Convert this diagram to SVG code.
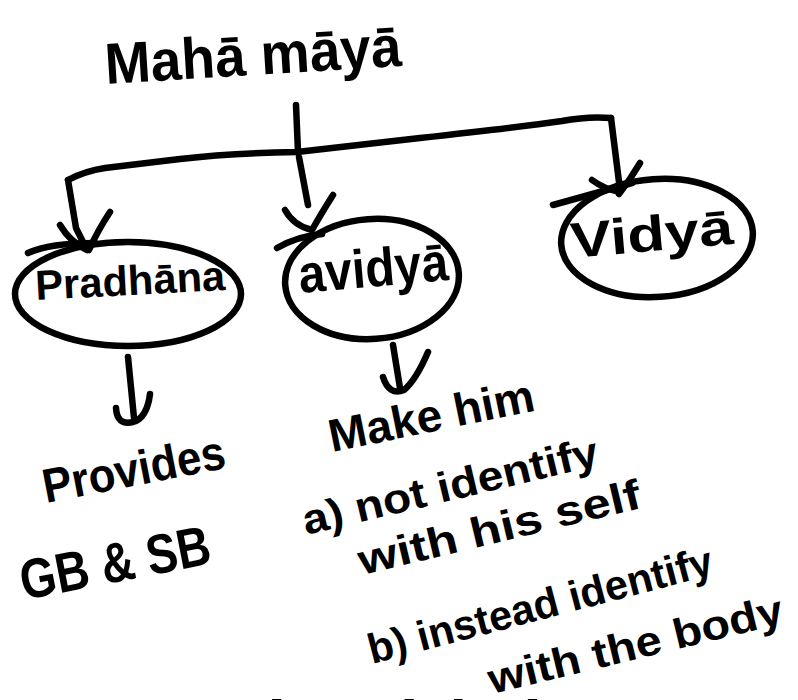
<svg xmlns="http://www.w3.org/2000/svg" width="798" height="700" viewBox="0 0 798 700">
<style>
.s{fill:none;stroke:#000;stroke-width:6.5;stroke-linecap:round;stroke-linejoin:round}
.h{font-family:"Liberation Sans","DejaVu Sans",sans-serif;font-weight:bold;fill:#000}
.serif{font-family:"Liberation Serif","DejaVu Serif",serif;fill:#000}
</style>
<rect width="798" height="700" fill="#fff"/>
<g id="title">
<text class="h" font-size="58" transform="translate(106,84) rotate(-3.5)" textLength="297" lengthAdjust="spacingAndGlyphs">Mahā māyā</text>
</g>
<g id="connectors">
<path class="s" d="M296,105 L298,152"/>
<path class="s" d="M68,180 Q85,171 105,168 L180,159 Q230,153 297,152 L420,138 Q520,127 562,121 Q588,116 611,118"/>
<path class="s" d="M68,180 L76,228 L86,248"/>
<path class="s" d="M60,225 Q70,242 87,250 M110,212 Q98,230 89,250"/>
<path class="s" d="M299,157 L308,205"/>
<path class="s" d="M285,210 Q294,226 312,230 M333,195 Q321,214 312,230"/>
<path class="s" d="M611,118 L620,190"/>
<path class="s" d="M592,180 Q604,189 620,192 M640,163 Q630,180 619,194"/>
<path class="s" d="M128,357 L134,418"/>
<path class="s" d="M116,408 Q117,426 133,422 Q147,418 150,394"/>
<path class="s" d="M393,345 L400,388"/>
<path class="s" d="M383,377 Q389,396 404,390 Q416,380 428,352"/>
</g>
<g id="node-pradhana">
<ellipse class="s" cx="128" cy="294" rx="113" ry="52"/>
<path class="s" d="M28,253 Q50,243 95,243"/>
<text class="h" font-size="42" transform="translate(36,300) rotate(-3)" textLength="190" lengthAdjust="spacingAndGlyphs">Pradhāna</text>
</g>
<g id="node-avidya">
<ellipse class="s" cx="372" cy="279" rx="87" ry="60" transform="rotate(-4 372 279)"/>
<path class="s" d="M277,248 Q298,236 322,234"/>
<text class="h" font-size="54" transform="translate(300,293) rotate(-5)" textLength="150" lengthAdjust="spacingAndGlyphs">avidyā</text>
</g>
<g id="node-vidya">
<ellipse class="s" cx="657" cy="238" rx="96" ry="59" transform="rotate(-4 657 238)"/>
<path class="s" d="M553,205 L632,183"/>
<text class="h" font-size="50" transform="translate(572,258) rotate(-5)" textLength="163" lengthAdjust="spacingAndGlyphs">Vidyā</text>
</g>
<g id="note-provides">
<text class="h" font-size="48" transform="translate(46,503) rotate(-11)" textLength="185" lengthAdjust="spacingAndGlyphs">Provides</text>
<text class="h" font-size="56" transform="translate(24,600) rotate(-11)" textLength="193" lengthAdjust="spacingAndGlyphs">GB &amp; SB</text>
</g>
<g id="note-make-him">
<text class="h" font-size="46" transform="translate(332,452) rotate(-11.5)" textLength="209" lengthAdjust="spacingAndGlyphs">Make him</text>
<text class="h" font-size="42" transform="translate(306,535) rotate(-13.4)" textLength="303" lengthAdjust="spacingAndGlyphs">a) not identify</text>
<text class="h" font-size="42" transform="translate(362,575) rotate(-13.5)" textLength="289" lengthAdjust="spacingAndGlyphs">with his self</text>
<text class="h" font-size="42" transform="translate(372,664) rotate(-14.7)" textLength="355" lengthAdjust="spacingAndGlyphs">b) instead identify</text>
<text class="h" font-size="42" transform="translate(492,694) rotate(-13.6)" textLength="302" lengthAdjust="spacingAndGlyphs">with the body</text>
</g>
<g id="bottom-text">
<text class="serif" font-size="58" y="738.5"><tspan x="60">Our</tspan><tspan x="166">mind</tspan><tspan x="334">and</tspan><tspan x="454">body</tspan></text>
</g>
</svg>
